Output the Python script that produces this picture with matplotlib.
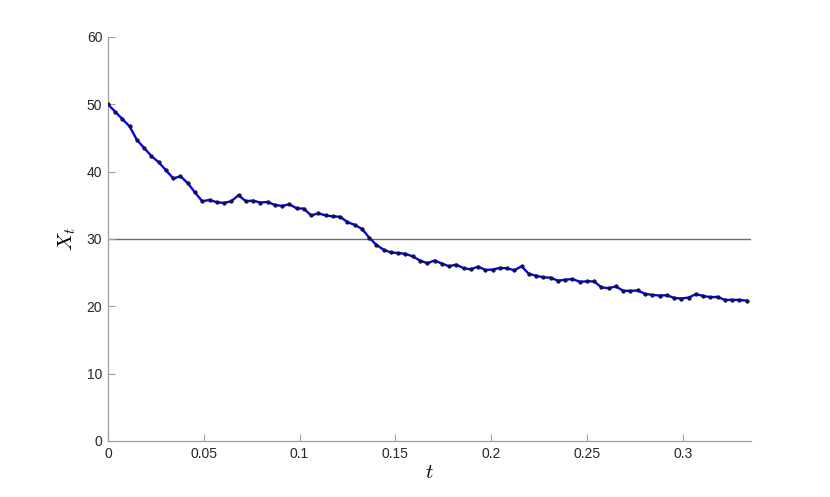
import matplotlib
matplotlib.use('Agg')
import matplotlib.pyplot as plt
import numpy as np

# values, 89 samples from t=0 to t=1/3
t_end = 1 / 3
xt = [50.0, 48.9, 47.8, 46.7, 44.7, 43.5, 42.3, 41.4, 40.2, 39.0,
      39.3, 38.3, 36.9, 35.6, 35.8, 35.45, 35.35, 35.6, 36.5, 35.6,
      35.7, 35.4, 35.5, 35.05, 34.9, 35.15, 34.55, 34.5, 33.5, 33.8,
      33.5, 33.35, 33.3, 32.5, 32.1, 31.5, 30.2, 29.1, 28.4, 28.0,
      27.9, 27.8, 27.4, 26.8, 26.4, 26.8, 26.35, 25.95, 26.2, 25.65,
      25.5, 25.9, 25.4, 25.45, 25.7, 25.65, 25.35, 25.95, 24.8, 24.55,
      24.3, 24.25, 23.8, 23.95, 24.05, 23.65, 23.7, 23.7, 22.8, 22.7,
      22.95, 22.3, 22.3, 22.35, 21.85, 21.7, 21.6, 21.65, 21.25, 21.15,
      21.3, 21.8, 21.55, 21.35, 21.4, 20.95, 20.95, 20.95, 20.85]
level = 30
xticks = [0, 0.05, 0.1, 0.15, 0.2, 0.25, 0.3]
yticks = [0, 10, 20, 30, 40, 50, 60]

ts = np.linspace(0, t_end, len(xt))

plt.rcParams['mathtext.fontset'] = 'cm'
plt.rcParams['font.family'] = ['Liberation Sans', 'DejaVu Sans']
fig = plt.figure(figsize=(8.3, 4.97), dpi=100)
ax = fig.add_axes([0.13, 0.1127, 0.775, 0.813])

ax.axhline(level, color='#6e6e6e', lw=1.0, zorder=1)
ax.plot(ts, xt, color='#0000ff', lw=1.7, zorder=2)
ax.plot(ts, xt, 'o', color='#151535', ms=2.1, zorder=3)

ax.set_xlim(0, 0.3357)
ax.set_ylim(0, 60)
ax.set_xticks(xticks)
ax.set_xticklabels(['0', '0.05', '0.1', '0.15', '0.2', '0.25', '0.3'])
ax.set_yticks(yticks)

for s in ['top', 'right']:
    ax.spines[s].set_visible(False)
for s in ['left', 'bottom']:
    ax.spines[s].set_color('#a0a0a0')
    ax.spines[s].set_linewidth(0.9)
ax.tick_params(direction='in', length=5, width=0.8, color='#a0a0a0',
               labelcolor='#262626', labelsize=10, pad=4)

ax.set_xlabel('$t$', fontsize=15, labelpad=2)
ax.set_ylabel('$X_t$', fontsize=15, labelpad=6)

fig.savefig('out.png', dpi=100)
